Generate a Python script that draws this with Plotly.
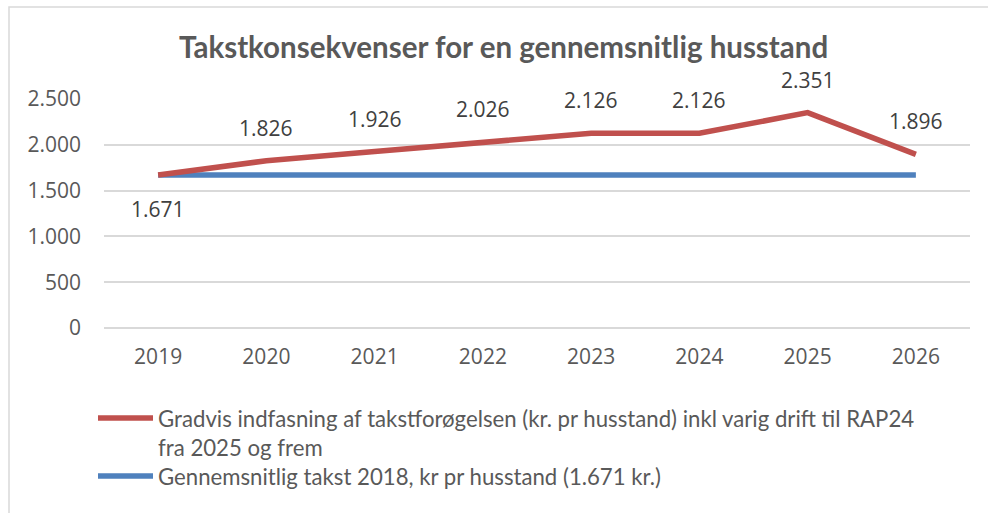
import plotly.graph_objects as go

years = ["2019", "2020", "2021", "2022", "2023", "2024", "2025", "2026"]
red_values = [1671, 1826, 1926, 2026, 2126, 2126, 2351, 1896]
blue_values = [1671, 1671, 1671, 1671, 1671, 1671, 1671, 1671]
red_label_side = ["below", "above", "above", "above", "above", "above", "above", "above"]
y_ticks = [0, 500, 1000, 1500, 2000, 2500]
title = "Takstkonsekvenser for en gennemsnitlig husstand"
red_name = ["Gradvis indfasning af takstforøgelsen (kr. pr husstand) inkl varig drift til RAP24",
            "fra 2025 og frem"]
blue_name = ["Gennemsnitlig takst 2018, kr pr husstand (1.671 kr.)"]

RED = "#C0504D"
BLUE = "#4F81BD"
GRID = "#D9D9D9"
TXT = "#595959"
W, H = 988, 513
L, R, T, B = 104, 18, 99, 185
PW, PH = W - L - R, H - T - B


def xp(px):
    return (px - L) / PW


def yp(py):
    return (H - B - py) / PH


def fmt(v):
    return f"{v:,}".replace(",", ".")


fig = go.Figure()
fig.add_trace(go.Scatter(x=years, y=blue_values, mode="lines",
                         line=dict(color=BLUE, width=5.5), name=blue_name[0],
                         showlegend=False, hoverinfo="skip"))
fig.add_trace(go.Scatter(x=years, y=red_values, mode="lines",
                         line=dict(color=RED, width=5.5), name=" ".join(red_name),
                         showlegend=False, hoverinfo="skip"))

annotations = []
for i, (v, side) in enumerate(zip(red_values, red_label_side)):
    annotations.append(dict(x=i, y=v, xref="x", yref="y", text=fmt(v), showarrow=False,
                            yshift=33 if side == "above" else -34,
                            font=dict(family="Open Sans", size=21, color="#404040")))

annotations.append(dict(x=xp(503), y=yp(46), xref="paper", yref="paper", xanchor="center",
                        yanchor="middle", text=f"<b>{title}</b>", showarrow=False,
                        font=dict(family="Lato", size=29.5, color=TXT)))

shapes = [dict(type="rect", xref="paper", yref="paper", x0=xp(9), x1=xp(1100),
               y0=yp(700), y1=yp(7), line=dict(color=GRID, width=1.5), layer="below")]

legend_items = [(RED, red_name, 418), (BLUE, blue_name, 476)]
for color, lines, py in legend_items:
    shapes.append(dict(type="line", xref="paper", yref="paper", x0=xp(98), x1=xp(153),
                       y0=yp(py), y1=yp(py), line=dict(color=color, width=5.5)))
    for i, line in enumerate(lines):
        annotations.append(dict(x=xp(156), y=yp(py + 29 * i), xref="paper", yref="paper",
                                xanchor="left", yanchor="middle", text=line, showarrow=False,
                                font=dict(family="Lato", size=22.2, color=TXT)))

fig.update_layout(
    width=W, height=H,
    margin=dict(l=L, r=R, t=T, b=B),
    paper_bgcolor="white", plot_bgcolor="white",
    separators=",.",
    showlegend=False,
    annotations=annotations,
    shapes=shapes,
    xaxis=dict(type="category", range=[-0.5, 7.5], showgrid=False, zeroline=False,
               showline=False, ticks="", ticklabelstandoff=14,
               tickfont=dict(family="Open Sans", size=21, color=TXT)),
    yaxis=dict(range=[0, 2500], tickvals=y_ticks, tickformat=",.0f",
               showgrid=True, gridcolor=GRID, gridwidth=2, zeroline=True,
               zerolinecolor=GRID, zerolinewidth=2, showline=False, ticks="",
               ticklabelstandoff=22,
               tickfont=dict(family="Open Sans", size=21, color=TXT)),
)

fig.write_html("out.html", config={"displayModeBar": False},
               post_script="document.body.style.margin='0';")
